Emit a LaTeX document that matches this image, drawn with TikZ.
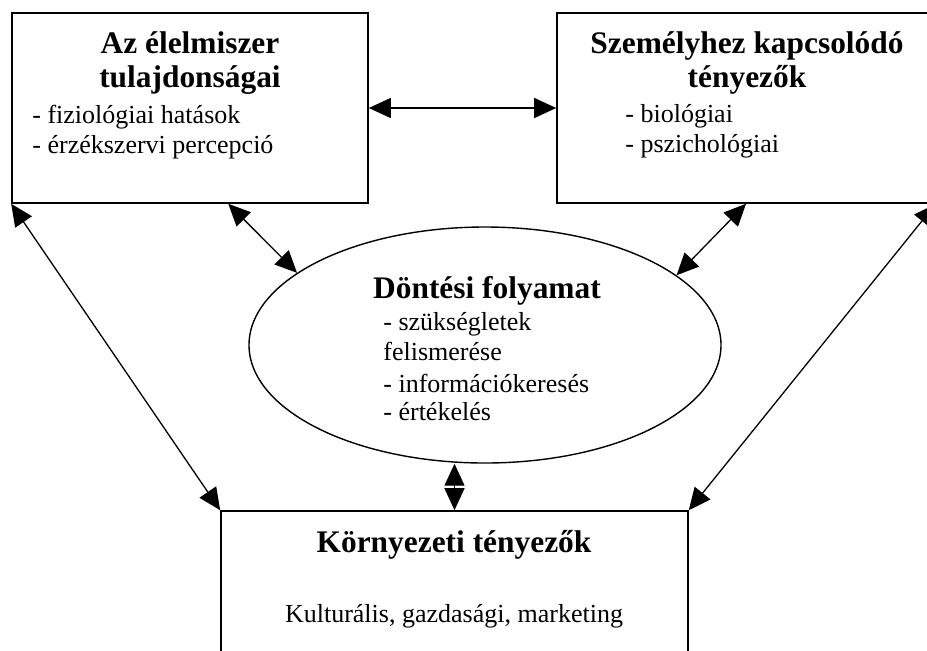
\documentclass[tikz,border=0pt]{standalone}
\usepackage{fontspec}
\setmainfont{Liberation Serif}
\usetikzlibrary{arrows.meta,shapes.geometric,calc}
\tikzset{
  box/.style={draw,line width=0.8pt,inner sep=0pt,rectangle},
  oval/.style={draw,line width=0.7pt,inner sep=0pt,ellipse},
  conn/.style={line width=0.65pt,{Triangle[length=11pt,width=10pt]}-{Triangle[length=11pt,width=10pt]}},
  ttl/.style={font=\fontsize{15.7pt}{17pt}\selectfont\bfseries,anchor=base,inner sep=0pt},
  itm/.style={font=\fontsize{13pt}{15pt}\selectfont,anchor=base west,inner sep=0pt},
  itc/.style={font=\fontsize{13pt}{15pt}\selectfont,anchor=base,inner sep=0pt}
}
\begin{document}
\begin{tikzpicture}[x=0.5pt,y=-0.5pt]
\useasboundingbox (0,0) rectangle (927,650);
% boxes
\node[box,minimum width=178pt,minimum height=95pt] (lbox) at (190,108) {};
\node[box,minimum width=189pt,minimum height=95pt] (rbox) at (746,108) {};
\node[box,minimum width=233.5pt,minimum height=89.5pt] (bbox) at (454.5,600.5) {};
\node[oval,minimum width=236pt,minimum height=118pt] (ell) at (485,345) {};
% texts left box
\node[ttl] (l1) at (190,53) {Az élelmiszer};
\node[ttl] (l2) at (190,87) {tulajdonságai};
\node[itm] (l3) at (32,123) {- fiziológiai hatások};
\node[itm] (l4) at (32,153) {- érzékszervi percepció};
% right box
\node[ttl] (r1) at (747,53) {Személyhez kapcsolódó};
\node[ttl] (r2) at (747,87) {tényezők};
\node[itm] (r3) at (625,122) {- biológiai};
\node[itm] (r4) at (625,152) {- pszichológiai};
% ellipse
\node[ttl] (e1) at (487,298) {Döntési folyamat};
\node[itm] (e2) at (383,330) {- szükségletek};
\node[itm] (e3) at (383,360) {felismerése};
\node[itm] (e4) at (383,392) {- információkeresés};
\node[itm] (e5) at (383,420) {- értékelés};
% bottom box
\node[ttl] (b1) at (454,552) {Környezeti tényezők};
\node[itc] (b2) at (454,622) {Kulturális, gazdasági, marketing};
% connectors
\draw[conn] (lbox.east) -- (rbox.west);
\draw[conn] ($(lbox.south west)!0.607!(lbox.south east)$) -- (ell.159);
\draw[conn] (rbox.south) -- (ell.20.6);
\draw[conn] (lbox.south west) -- (bbox.north west);
\draw[conn] (rbox.south east) -- (bbox.north east);
\draw[conn] (bbox.north |- ell.south) -- (bbox.north);
\end{tikzpicture}
\end{document}
